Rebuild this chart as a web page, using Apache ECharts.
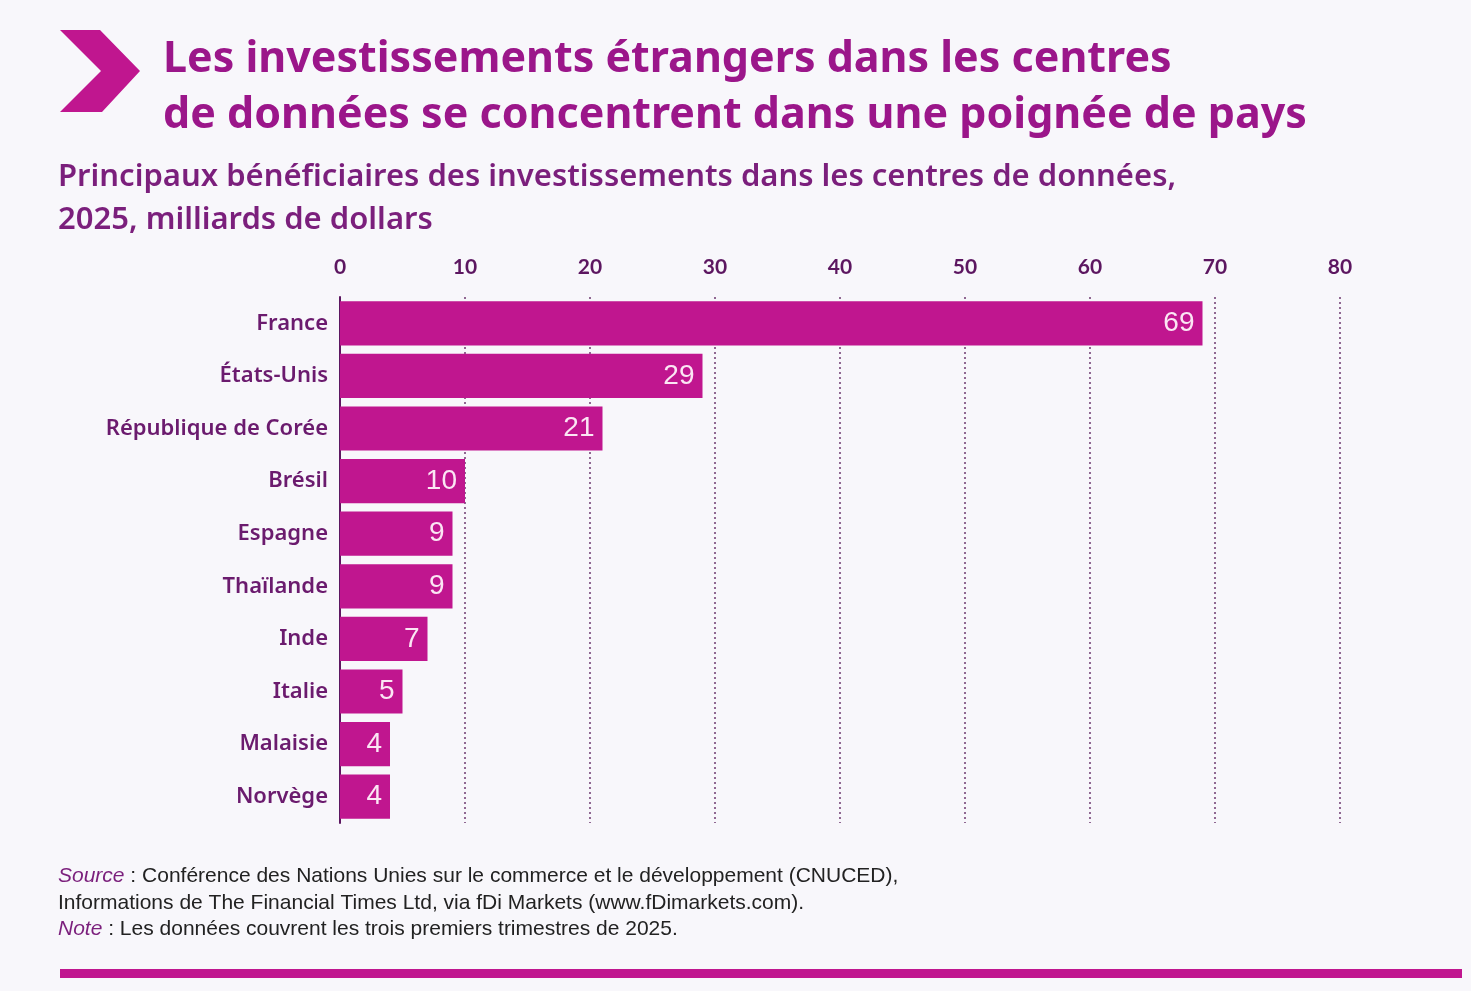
<!DOCTYPE html>
<html>
<head>
<meta charset="utf-8">
<style>
  html, body { margin: 0; padding: 0; background: #f8f7fb; }
  #main { width: 1471px; height: 991px; }
</style>
</head>
<body>
<div id="main"></div>
<script src="https://cdn.jsdelivr.net/npm/echarts@6/dist/echarts.min.js"></script>
<script>
    var countries = ['France', 'États-Unis', 'République de Corée', 'Brésil', 'Espagne',
        'Thaïlande', 'Inde', 'Italie', 'Malaisie', 'Norvège'];
    var values = [69, 29, 21, 10, 9, 9, 7, 5, 4, 4];
    var xTicks = [0, 10, 20, 30, 40, 50, 60, 70, 80];

    var magenta = '#c0168f';
    var darkPurple = '#5c1660';

    var myChart = echarts.init(document.getElementById('main'));

    var option = {
        backgroundColor: '#f8f7fb',
        animation: false,
        title: [{
            text: 'Les investissements étrangers dans les centres\nde données se concentrent dans une poignée de pays',
            left: 158,
            top: 27,
            textStyle: {
                fontFamily: 'Noto Sans',
                fontWeight: 'bold',
                fontSize: 43,
                lineHeight: 56,
                color: '#9b168a'
            }
        }, {
            text: 'Principaux bénéficiaires des investissements dans les centres de données,\n2025, milliards de dollars',
            left: 53,
            top: 151,
            textStyle: {
                fontFamily: 'Noto Sans',
                fontWeight: 600,
                fontSize: 31,
                lineHeight: 43,
                color: '#7b1f7c'
            }
        }, {
            text: '{it|Source} : Conférence des Nations Unies sur le commerce et le développement (CNUCED),\n' +
                'Informations de The Financial Times Ltd, via fDi Markets (www.fDimarkets.com).\n' +
                '{it|Note} : Les données couvrent les trois premiers trimestres de 2025.',
            left: 53,
            top: 858,
            textStyle: {
                fontFamily: 'Liberation Sans',
                fontWeight: 'normal',
                fontSize: 21,
                lineHeight: 26.5,
                color: '#222222',
                rich: {
                    it: {
                        fontFamily: 'Liberation Sans',
                        fontStyle: 'italic',
                        fontWeight: 'normal',
                        fontSize: 21,
                        color: '#7b1f7c'
                    }
                }
            }
        }],
        graphic: [{
            type: 'polygon',
            shape: {
                points: [[60, 30], [100, 30], [140, 71], [102, 112], [60, 112], [101, 71]]
            },
            style: { fill: magenta }
        }, {
            type: 'rect',
            shape: { x: 60, y: 969, width: 1402, height: 9 },
            style: { fill: magenta }
        }],
        grid: {
            left: 340,
            right: 131,
            top: 297,
            bottom: 168
        },
        xAxis: {
            type: 'value',
            position: 'top',
            min: 0,
            max: 80,
            interval: 10,
            axisLine: { show: false },
            axisTick: { show: false },
            axisLabel: {
                margin: 19,
                fontFamily: 'Lato',
                fontWeight: 'bold',
                fontSize: 21,
                color: darkPurple,
                formatter: function (v) {
                    return xTicks.indexOf(v) >= 0 ? String(v) : '';
                }
            },
            splitLine: {
                show: true,
                lineStyle: {
                    color: '#6e3a70',
                    type: [2, 3],
                    width: 1.5
                }
            }
        },
        yAxis: {
            type: 'category',
            inverse: true,
            data: countries,
            axisLine: {
                show: true,
                lineStyle: { color: darkPurple, width: 2 }
            },
            axisTick: { show: false },
            axisLabel: {
                margin: 12,
                fontFamily: 'Noto Sans',
                fontWeight: 600,
                fontSize: 22,
                color: '#6b1b6e'
            }
        },
        series: [{
            type: 'bar',
            data: values,
            barCategoryGap: '16%',
            z: 3,
            itemStyle: { color: magenta },
            label: {
                show: true,
                position: 'insideRight',
                distance: 8,
                fontFamily: 'Liberation Sans',
                fontSize: 28,
                color: '#fbe6f4'
            }
        }]
    };

    myChart.setOption(option);
</script>
</body>
</html>
